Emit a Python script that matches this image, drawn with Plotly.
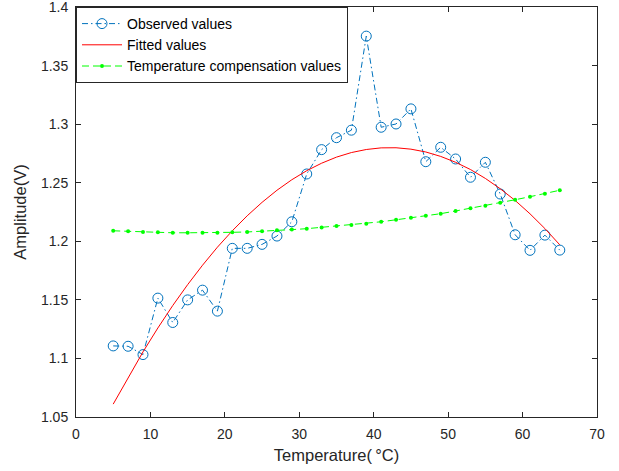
import plotly.graph_objects as go

temperature = [5, 7, 9, 11, 13, 15, 17, 19, 21, 23, 25, 27, 29, 31, 33, 35,
               37, 39, 41, 43, 45, 47, 49, 51, 53, 55, 57, 59, 61, 63, 65]

observed = [1.1107, 1.1104, 1.1033, 1.1515, 1.1307, 1.1500, 1.1583, 1.1404,
            1.1940, 1.1940, 1.1974, 1.2045, 1.2167, 1.2575, 1.2783, 1.2885,
            1.2949, 1.3752, 1.2974, 1.3002, 1.3131, 1.2680, 1.2803, 1.2703,
            1.2547, 1.2675, 1.2404, 1.2056, 1.1923, 1.2053, 1.1925]

fitted = [1.0610, 1.0839, 1.1056, 1.1260, 1.1452, 1.1630, 1.1796, 1.1950,
          1.2090, 1.2218, 1.2333, 1.2436, 1.2526, 1.2603, 1.2667, 1.2719,
          1.2758, 1.2784, 1.2798, 1.2799, 1.2787, 1.2763, 1.2725, 1.2675,
          1.2613, 1.2537, 1.2449, 1.2349, 1.2235, 1.2109, 1.1970]

compensated = [1.2090, 1.2085, 1.2080, 1.2077, 1.2073, 1.2073, 1.2073, 1.2073,
               1.2077, 1.2080, 1.2085, 1.2094, 1.2100, 1.2108, 1.2119, 1.2130,
               1.2139, 1.2150, 1.2167, 1.2184, 1.2201, 1.2218, 1.2236, 1.2259,
               1.2282, 1.2304, 1.2330, 1.2355, 1.2381, 1.2406, 1.2436]

x_ticks = [0, 10, 20, 30, 40, 50, 60, 70]
y_ticks = [1.05, 1.1, 1.15, 1.2, 1.25, 1.3, 1.35, 1.4]
y_tick_text = ["1.05", "1.1", "1.15", "1.2", "1.25", "1.3", "1.35", "1.4"]

AX = "#262626"
FONT = "Liberation Sans, Arial, Helvetica, sans-serif"

fig = go.Figure()
fig.add_trace(go.Scatter(
    x=temperature, y=observed, name="Observed values", mode="lines+markers",
    line=dict(color="rgb(0,114,189)", width=1, dash="6px,3px,1.5px,3px"),
    marker=dict(symbol="circle-open", size=10, color="rgb(0,114,189)",
                line=dict(width=1, color="rgb(0,114,189)")),
))
fig.add_trace(go.Scatter(
    x=temperature, y=fitted, name="Fitted values", mode="lines",
    line=dict(color="#ff0000", width=1),
))
fig.add_trace(go.Scatter(
    x=temperature, y=compensated, name="Temperature compensation values",
    mode="lines+markers",
    line=dict(color="#00ff00", width=1, dash="7px,4px"),
    marker=dict(symbol="circle", size=4, color="#00ff00"),
))

axis_common = dict(
    showline=True, linecolor=AX, linewidth=1, mirror="ticks",
    ticks="inside", ticklen=5, tickcolor=AX, tickwidth=1,
    showgrid=False, zeroline=False, ticklabeloverflow="allow",
    automargin=False,
    tickfont=dict(family=FONT, size=14, color=AX),
)

fig.update_xaxes(range=[0, 70], tickvals=x_ticks, ticklabelstandoff=4,
                 title=dict(text="Temperature(\u2009°C)", font=dict(family=FONT, size=16.5, color=AX), standoff=8),
                 **axis_common)
fig.update_yaxes(range=[1.05, 1.40008], tickvals=y_ticks, ticktext=y_tick_text,
                 ticklabelstandoff=4,
                 title=dict(text="Amplitude(V)", font=dict(family=FONT, size=16.5, color=AX), standoff=10),
                 **axis_common)

fig.update_layout(
    width=619, height=471,
    margin=dict(l=76, r=22, t=7, b=54),
    paper_bgcolor="white", plot_bgcolor="white",
    font=dict(family=FONT, size=14, color=AX),
    legend=dict(x=0, y=1, xanchor="left", yanchor="top",
                bgcolor="white", bordercolor=AX, borderwidth=1,
                font=dict(family=FONT, size=14, color="#000000"),
                tracegroupgap=0, itemwidth=40),
    showlegend=True,
)

fig.write_html("out.html")
